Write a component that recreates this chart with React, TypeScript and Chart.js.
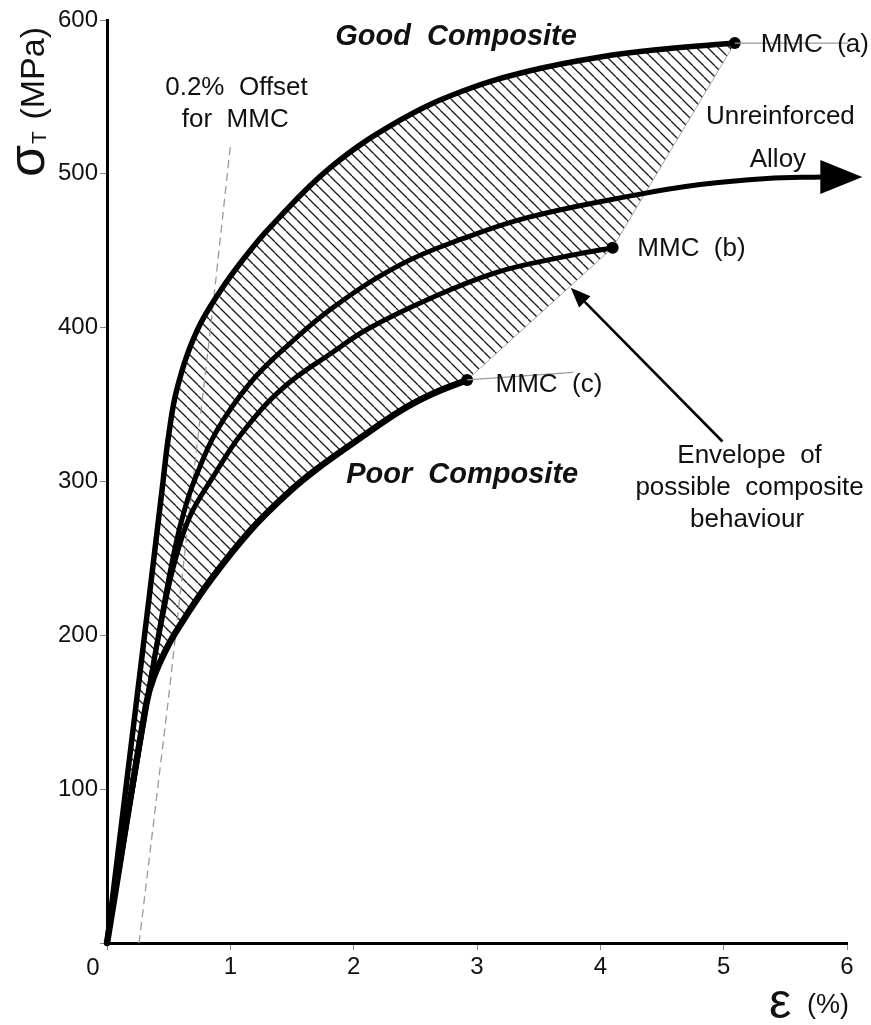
import React, { useEffect, useRef } from 'react';
import { Chart, registerables } from 'chart.js';

Chart.register(...registerables);

// ---------- data (strain %, stress MPa) ----------
const goodStrain = [0, 0.21, 0.30, 0.38, 0.45, 0.50, 0.57, 0.73, 0.92, 1.13, 1.32, 1.81, 2.38, 2.89, 3.43, 4.00, 4.50, 5.09];
const goodStress = [0, 138, 197, 250, 297, 330, 361, 398, 424, 447, 465, 504, 535, 554, 567, 576, 581, 585];

const alloyStrain = [0, 0.33, 0.45, 0.56, 0.63, 0.71, 0.89, 1.16, 1.46, 1.83, 2.38, 2.89, 3.43, 4.27, 4.81, 5.35, 5.80];
const alloyStress = [0, 160, 215, 260, 282, 301, 333, 364, 388, 413, 441, 458, 472, 486, 493, 497, 498];

const mmcBStrain = [0, 0.33, 0.45, 0.54, 0.67, 0.86, 1.10, 1.43, 1.83, 2.11, 2.62, 3.16, 3.70, 4.10];
const mmcBStress = [0, 160, 212, 245, 277, 303, 332, 361, 384, 399, 419, 436, 446, 452];

const poorStrain = [0, 0.32, 0.38, 0.50, 0.62, 0.84, 1.16, 1.46, 1.70, 2.05, 2.38, 2.64, 2.92];
const poorStress = [0, 156, 173, 194, 210, 236, 268, 292, 308, 328, 346, 357, 366];

const offsetStrain = [0.26, 0.50, 0.66, 0.84, 1.00];
const offsetStress = [0, 160, 275, 400, 518];

const xTickValues = [0, 1, 2, 3, 4, 5, 6];
const yTickValues = [0, 100, 200, 300, 400, 500, 600];

// text annotations (anchored in data coordinates)
const notes = [
  { t: 'Good  Composite', x: 2.83, y: 589, bold: true, align: 'center' },
  { t: 'Poor  Composite', x: 2.88, y: 304, bold: true, align: 'center' },
  { t: '0.2%  Offset', x: 1.05, y: 556, bold: false, align: 'center' },
  { t: 'for  MMC', x: 1.04, y: 535, bold: false, align: 'center' },
  { t: 'Unreinforced', x: 5.46, y: 537, bold: false, align: 'center' },
  { t: 'Alloy', x: 5.44, y: 509, bold: false, align: 'center' },
  { t: 'MMC  (a)', x: 5.30, y: 584, bold: false, align: 'left' },
  { t: 'MMC  (b)', x: 4.30, y: 451, bold: false, align: 'left' },
  { t: 'MMC  (c)', x: 3.15, y: 363, bold: false, align: 'left' },
  { t: 'Envelope  of', x: 5.21, y: 317, bold: false, align: 'center' },
  { t: 'possible  composite', x: 5.21, y: 296, bold: false, align: 'center' },
  { t: 'behaviour', x: 5.19, y: 275, bold: false, align: 'center' },
];
const envelopeArrowTail = { x: 4.99, y: 326 };
const envelopeArrowTip = { x: 3.76, y: 426 };
const leaderAEnd = { x: 6.01, y: 585 };
const leaderCEnd = { x: 3.78, y: 371 };

const FONT = '"Liberation Sans", Arial, Helvetica, sans-serif';
const TENSION = 0.4;

const toPts = (xs: number[], ys: number[]) => xs.map((x, i) => ({ x, y: ys[i] }));

function makeHatch(ctx: CanvasRenderingContext2D) {
  const s = 11;
  const c = document.createElement('canvas');
  c.width = s;
  c.height = s;
  const g = c.getContext('2d')!;
  g.strokeStyle = '#1a1a1a';
  g.lineWidth = 1.3;
  for (const o of [-s, 0, s]) {
    g.beginPath();
    g.moveTo(o, 0);
    g.lineTo(o + s, s);
    g.stroke();
  }
  return ctx.createPattern(c, 'repeat');
}

const envelopePlugin = {
  id: 'envelope',
  beforeDatasetsDraw(chart: any) {
    const ctx = chart.ctx as CanvasRenderingContext2D;
    const xs = chart.scales.x;
    const ys = chart.scales.y;
    const aLine = chart.getDatasetMeta(0).dataset;
    const cLine = chart.getDatasetMeta(3).dataset;
    if (!aLine || !cLine) return;
    aLine.updateControlPoints(chart.chartArea, 'x');
    cLine.updateControlPoints(chart.chartArea, 'x');
    const aEnd = { x: xs.getPixelForValue(goodStrain[goodStrain.length - 1]), y: ys.getPixelForValue(goodStress[goodStress.length - 1]) };
    const bEnd = { x: xs.getPixelForValue(mmcBStrain[mmcBStrain.length - 1]), y: ys.getPixelForValue(mmcBStress[mmcBStress.length - 1]) };
    const cEnd = { x: xs.getPixelForValue(poorStrain[poorStrain.length - 1]), y: ys.getPixelForValue(poorStress[poorStress.length - 1]) };
    ctx.save();
    ctx.beginPath();
    aLine.pathSegment(ctx, aLine.segments[0]);
    ctx.lineTo(bEnd.x, bEnd.y);
    ctx.lineTo(cEnd.x, cEnd.y);
    cLine.pathSegment(ctx, cLine.segments[0], { move: false, reverse: true });
    ctx.closePath();
    ctx.fillStyle = makeHatch(ctx) as any;
    ctx.fill();
    ctx.beginPath();
    ctx.moveTo(aEnd.x, aEnd.y);
    ctx.lineTo(bEnd.x, bEnd.y);
    ctx.lineTo(cEnd.x, cEnd.y);
    ctx.strokeStyle = '#aaaaaa';
    ctx.lineWidth = 1;
    ctx.stroke();
    ctx.restore();
  },
  afterDatasetsDraw(chart: any) {
    const ctx = chart.ctx as CanvasRenderingContext2D;
    const xs = chart.scales.x;
    const ys = chart.scales.y;
    const P = (p: { x: number; y: number }) => ({ x: xs.getPixelForValue(p.x), y: ys.getPixelForValue(p.y) });
    ctx.save();

    // leader lines through MMC (a) and MMC (c) labels
    ctx.strokeStyle = '#9a9a9a';
    ctx.lineWidth = 1.2;
    const aEnd = P({ x: goodStrain[goodStrain.length - 1], y: goodStress[goodStress.length - 1] });
    const la = P(leaderAEnd);
    ctx.beginPath();
    ctx.moveTo(aEnd.x, aEnd.y);
    ctx.lineTo(la.x, la.y);
    ctx.stroke();
    const cEnd = P({ x: poorStrain[poorStrain.length - 1], y: poorStress[poorStress.length - 1] });
    const lc = P(leaderCEnd);
    ctx.beginPath();
    ctx.moveTo(cEnd.x, cEnd.y);
    ctx.lineTo(lc.x, lc.y);
    ctx.stroke();

    // arrowhead of unreinforced alloy curve
    const al = P({ x: alloyStrain[alloyStrain.length - 1], y: alloyStress[alloyStress.length - 1] });
    ctx.fillStyle = '#000';
    ctx.beginPath();
    ctx.moveTo(al.x - 2, al.y - 17);
    ctx.lineTo(al.x + 40, al.y);
    ctx.lineTo(al.x - 2, al.y + 17);
    ctx.closePath();
    ctx.fill();

    // envelope pointer arrow
    const t0 = P(envelopeArrowTail);
    const t1 = P(envelopeArrowTip);
    const ang = Math.atan2(t1.y - t0.y, t1.x - t0.x);
    const hl = 20;
    const hw = 8;
    const bx = t1.x - hl * Math.cos(ang);
    const by = t1.y - hl * Math.sin(ang);
    ctx.strokeStyle = '#000';
    ctx.lineWidth = 2.6;
    ctx.beginPath();
    ctx.moveTo(t0.x, t0.y);
    ctx.lineTo(bx, by);
    ctx.stroke();
    ctx.beginPath();
    ctx.moveTo(t1.x, t1.y);
    ctx.lineTo(bx + hw * Math.sin(ang), by - hw * Math.cos(ang));
    ctx.lineTo(bx - hw * Math.sin(ang), by + hw * Math.cos(ang));
    ctx.closePath();
    ctx.fill();

    // notes
    ctx.fillStyle = '#111';
    ctx.textBaseline = 'middle';
    for (const n of notes) {
      const p = P(n);
      ctx.font = n.bold ? `italic bold 29px ${FONT}` : `26px ${FONT}`;
      ctx.textAlign = n.align as CanvasTextAlign;
      ctx.fillText(n.t, p.x, p.y);
    }

    // origin "0" label
    const o = P({ x: 0, y: 0 });
    ctx.font = `24px ${FONT}`;
    ctx.textAlign = 'center';
    ctx.fillText('0', o.x - 14, o.y + 25);

    // y axis title: sigma_T (MPa), rotated
    const top = ys.getPixelForValue(600);
    ctx.save();
    ctx.translate(o.x - 63, top + 157);
    ctx.rotate(-Math.PI / 2);
    ctx.textBaseline = 'alphabetic';
    ctx.textAlign = 'left';
    ctx.font = `52px ${FONT}`;
    ctx.fillText('σ', 0, 0);
    const sw = ctx.measureText('σ').width;
    ctx.font = `21px ${FONT}`;
    ctx.fillText('T', sw + 1, 2);
    ctx.font = `34px ${FONT}`;
    ctx.textAlign = 'right';
    ctx.fillText('(MPa)', 150, 0);
    ctx.restore();

    // x axis title: epsilon (%)
    const right = xs.getPixelForValue(6);
    ctx.textAlign = 'left';
    ctx.textBaseline = 'alphabetic';
    ctx.font = `50px ${FONT}`;
    ctx.fillText('ε', right - 78, o.y + 75);
    ctx.font = `27px ${FONT}`;
    ctx.fillText('(%)', right - 40, o.y + 70);

    ctx.restore();
  },
};

export default function App() {
  const ref = useRef<HTMLCanvasElement>(null);
  useEffect(() => {
    document.body.style.margin = '0';
    const endDot = (c: any) => (c.dataIndex === c.dataset.data.length - 1 ? 6 : 0);
    const curve = (data: any, width: number, dot: boolean) => ({
      data,
      showLine: true,
      borderColor: '#000',
      backgroundColor: '#000',
      borderWidth: width,
      borderCapStyle: 'round',
      borderJoinStyle: 'round',
      tension: TENSION,
      pointRadius: dot ? endDot : 0,
      pointBorderWidth: 0,
      pointBackgroundColor: '#000',
      clip: false,
      fill: false,
    });
    const chart = new Chart(ref.current!, {
      type: 'scatter',
      data: {
        datasets: [
          curve(toPts(goodStrain, goodStress), 5.5, true),
          curve(toPts(alloyStrain, alloyStress), 5, false),
          curve(toPts(mmcBStrain, mmcBStress), 5, true),
          curve(toPts(poorStrain, poorStress), 6.5, true),
          {
            data: toPts(offsetStrain, offsetStress),
            showLine: true,
            borderColor: '#9a9a9a',
            borderWidth: 1.3,
            borderDash: [8, 5],
            pointRadius: 0,
            tension: 0,
            clip: false,
            fill: false,
          } as any,
        ] as any,
      },
      options: {
        animation: false,
        responsive: true,
        maintainAspectRatio: false,
        events: [],
        layout: { padding: { top: 20, right: 24, left: 0, bottom: 0 } },
        plugins: { legend: { display: false }, tooltip: { enabled: false } },
        scales: {
          x: {
            type: 'linear',
            min: 0,
            max: 6,
            afterFit: (s: any) => { s.height = 82; },
            afterBuildTicks: (s: any) => { s.ticks = xTickValues.map((v) => ({ value: v })); },
            ticks: {
              color: '#111',
              font: { family: FONT, size: 24 },
              padding: 3,
              maxRotation: 0,
              callback: (v: any) => (v === 0 ? '' : String(v)),
            },
            grid: { drawOnChartArea: false, drawTicks: true, tickLength: 7, color: '#888', lineWidth: 1 },
            border: { display: true, color: '#000', width: 3 },
          },
          y: {
            type: 'linear',
            min: 0,
            max: 600,
            afterFit: (s: any) => { s.width = 107; },
            afterBuildTicks: (s: any) => { s.ticks = yTickValues.map((v) => ({ value: v })); },
            ticks: {
              color: '#111',
              font: { family: FONT, size: 24 },
              padding: 2,
              callback: (v: any) => (v === 0 ? '' : String(v)),
            },
            grid: { drawOnChartArea: false, drawTicks: true, tickLength: 7, color: '#888', lineWidth: 1 },
            border: { display: true, color: '#000', width: 3 },
          },
        },
      } as any,
      plugins: [envelopePlugin],
    });
    return () => chart.destroy();
  }, []);
  return (
    <div style={{ width: 871, height: 1025, position: 'relative', background: '#fff' }}>
      <canvas ref={ref} />
    </div>
  );
}
